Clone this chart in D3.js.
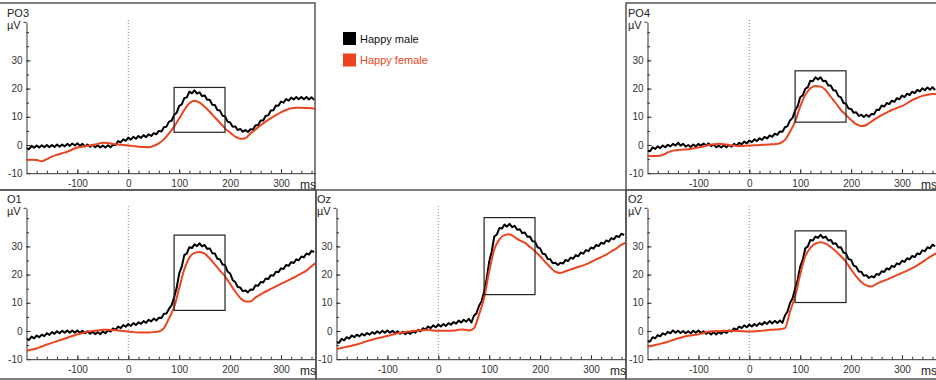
<!DOCTYPE html>
<html>
<head>
<meta charset="utf-8">
<script src="https://cdn.jsdelivr.net/npm/d3@7"></script>
<style>
  body { margin: 0; background: #fff; }
  svg { display: block; }
</style>
</head>
<body>
<svg width="936" height="380"></svg>
<script>
var channels = ["PO3", "PO4", "O1", "Oz", "O2"];
var seriesNames = ["Happy male", "Happy female"];
var xTicks = [-100, 0, 100, 200, 300];
var yTicks = [-10, 0, 10, 20, 30];
var boxTimes = [90, 190];
var boxLow = [4.5, 8.1, 7.3, 12.9, 10.1];
var boxHigh = [20.4, 26.3, 34.0, 40.2, 35.5];

// sample times (ms)
var maleTimes = d3.range(-200, 370, 5);
var femaleTimes = d3.range(-200, 371, 10);

// Happy male, 5 ms steps from -200
var malePO3 = [
  -1.1, -1.5, -0.3, -1.0, -0.2, -0.9, -0.1, -0.8, 0.0, -0.8,
  0.0, -0.7, 0.2, -0.6, 0.2, -0.5, 0.4, -0.3, 0.5, -0.2,
  0.6, -0.3, 0.4, -0.5, 0.2, -0.6, 0.1, -0.8, -0.1, -0.9,
  -0.2, -0.9, -0.1, -0.8, 0.1, 0.0, 1.4, 0.9, 2.0, 1.5,
  2.6, 1.9, 2.9, 2.2, 3.2, 2.5, 3.5, 2.8, 3.8, 3.2,
  4.2, 3.8, 5.0, 4.8, 6.3, 6.5, 8.3, 8.6, 10.6, 11.4,
  13.9, 14.4, 16.6, 16.9, 18.9, 18.3, 19.4, 18.2, 18.7, 17.3,
  17.6, 16.0, 16.0, 14.3, 14.2, 12.4, 12.2, 10.4, 10.2, 8.3,
  8.0, 6.5, 6.6, 5.3, 5.7, 4.7, 5.3, 4.6, 5.6, 5.5,
  7.0, 7.0, 8.7, 8.7, 10.4, 10.5, 12.2, 12.3, 14.0, 13.9,
  15.4, 15.0, 16.3, 15.7, 16.8, 16.1, 17.0, 16.2, 17.0, 16.2,
  17.0, 16.1, 16.9, 16.0
];
var malePO4 = [
  -2.0, -2.2, -0.8, -1.4, -0.5, -1.1, -0.2, -0.8, 0.1, -0.5,
  0.4, -0.2, 0.8, -0.2, 0.4, -0.6, 0.0, -0.7, 0.2, -0.5,
  0.4, -0.3, 0.5, -0.2, 0.6, -0.4, 0.2, -0.8, -0.2, -0.9,
  -0.1, -0.8, 0.0, -0.6, 0.4, -0.2, 0.8, 0.2, 1.2, 0.6,
  1.6, 1.0, 2.0, 1.4, 2.4, 1.8, 2.9, 2.3, 3.4, 2.9,
  4.0, 3.6, 4.8, 4.7, 6.3, 6.7, 8.7, 9.6, 12.2, 13.7,
  16.9, 17.6, 19.9, 20.5, 22.8, 22.6, 24.0, 23.2, 24.0, 22.6,
  22.8, 21.1, 21.1, 19.4, 19.3, 17.3, 16.9, 14.9, 14.6, 12.9,
  12.8, 11.4, 11.6, 10.3, 10.7, 9.9, 10.7, 10.0, 11.0, 10.9,
  12.5, 12.4, 14.0, 13.6, 14.9, 14.5, 15.7, 15.3, 16.6, 16.2,
  17.5, 17.0, 18.2, 17.7, 18.9, 18.4, 19.5, 19.0, 20.1, 19.4,
  20.4, 19.6, 20.5, 19.5
];
var maleO1 = [
  -2.8, -3.2, -2.0, -2.6, -1.6, -2.2, -1.3, -1.8, -0.8, -1.4,
  -0.4, -1.0, -0.1, -0.8, 0.1, -0.6, 0.2, -0.6, 0.2, -0.6,
  0.2, -0.6, 0.1, -0.8, -0.1, -1.0, -0.3, -1.1, -0.4, -1.1,
  -0.2, -0.8, 0.2, -0.2, 0.9, 0.4, 1.6, 1.0, 2.1, 1.5,
  2.5, 1.8, 2.8, 2.1, 3.1, 2.5, 3.5, 2.9, 4.0, 3.4,
  4.4, 3.7, 4.7, 4.6, 6.1, 6.2, 7.9, 9.1, 11.9, 15.3,
  20.4, 22.8, 26.9, 27.5, 29.7, 29.4, 30.7, 30.1, 31.1, 30.0,
  30.5, 29.1, 29.3, 27.6, 27.5, 25.6, 25.4, 23.6, 23.4, 21.1,
  20.4, 18.1, 17.4, 15.6, 15.4, 14.1, 14.4, 13.7, 14.7, 14.6,
  16.2, 16.0, 17.4, 17.2, 18.6, 18.4, 19.8, 19.6, 21.0, 20.8,
  22.2, 22.0, 23.4, 23.1, 24.4, 24.1, 25.4, 25.1, 26.4, 26.1,
  27.5, 27.1, 28.4, 28.0
];
var maleOz = [
  -4.0, -4.2, -2.8, -3.3, -2.2, -2.7, -1.6, -2.2, -1.3, -1.9,
  -1.0, -1.6, -0.7, -1.3, -0.4, -1.0, -0.1, -0.8, 0.1, -0.6,
  0.2, -0.6, 0.1, -0.8, -0.1, -1.0, -0.3, -1.1, -0.4, -1.0,
  -0.1, -0.6, 0.4, -0.1, 1.0, 0.5, 1.6, 1.0, 2.0, 1.3,
  2.3, 1.6, 2.5, 1.8, 2.8, 2.2, 3.2, 2.6, 3.7, 3.0,
  4.0, 3.3, 4.3, 3.0, 5.4, 6.3, 8.9, 10.6, 13.9, 18.4,
  24.6, 28.2, 33.5, 34.2, 36.5, 36.3, 37.7, 37.0, 38.0, 36.8,
  37.3, 35.9, 36.1, 34.7, 34.9, 33.4, 33.5, 31.8, 31.7, 29.7,
  29.3, 27.4, 27.2, 25.5, 25.4, 24.0, 24.2, 23.4, 24.2, 23.9,
  25.2, 24.8, 26.0, 25.6, 26.9, 26.5, 27.8, 27.4, 28.7, 28.3,
  29.6, 29.2, 30.5, 30.1, 31.3, 30.9, 32.1, 31.7, 32.9, 32.5,
  33.7, 33.3, 34.5, 34.0
];
var maleO2 = [
  -3.6, -3.7, -2.2, -2.6, -1.5, -1.9, -0.8, -1.3, -0.3, -0.8,
  0.2, -0.6, 0.1, -0.7, 0.0, -0.8, -0.1, -0.8, 0.1, -0.6,
  0.2, -0.7, -0.1, -1.0, -0.4, -1.2, -0.4, -1.2, -0.4, -1.0,
  -0.1, -0.7, 0.2, -0.2, 0.9, 0.4, 1.6, 1.0, 2.0, 1.3,
  2.3, 1.6, 2.5, 1.8, 2.8, 2.2, 3.2, 2.5, 3.5, 2.7,
  3.6, 2.8, 3.7, 2.9, 5.5, 6.9, 9.9, 11.6, 15.0, 18.1,
  22.8, 25.2, 29.3, 30.0, 32.3, 32.1, 33.5, 33.0, 34.1, 33.0,
  33.5, 32.1, 32.3, 30.9, 31.1, 29.6, 29.7, 27.8, 27.5, 25.5,
  25.2, 23.2, 22.8, 21.1, 21.0, 19.6, 19.8, 18.8, 19.4, 19.0,
  20.2, 19.9, 21.2, 20.9, 22.2, 21.8, 23.1, 22.7, 24.0, 23.6,
  24.9, 24.5, 25.8, 25.4, 26.6, 26.2, 27.5, 27.2, 28.6, 28.3,
  29.7, 29.3, 30.6, 30.0
];

// Happy female, 10 ms steps from -200
var femalePO3 = [
  -5.3, -5.2, -5.3, -5.8, -5.0, -4.1, -3.5, -2.9, -2.4, -1.6,
  -0.9, -0.6, -0.3, 0.0, 0.4, 0.8, 0.7, 0.4, 0.2, 0.0,
  -0.2, -0.4, -0.6, -0.7, -0.8, -0.3, 0.6, 2.0, 4.1, 6.5,
  9.4, 12.4, 14.8, 15.7, 15.0, 13.6, 11.8, 9.8, 7.9, 5.9,
  4.4, 3.0, 2.2, 2.4, 4.1, 5.5, 7.0, 8.3, 9.5, 10.6,
  11.6, 12.4, 13.0, 13.2, 13.2, 13.1, 13.0, 12.6
];
var femalePO4 = [
  -3.8, -3.9, -3.9, -3.5, -2.6, -2.0, -1.8, -1.6, -1.5, -1.2,
  -0.9, -0.5, 0.0, 0.2, 0.4, 0.3, 0.0, -0.2, -0.4, -0.3,
  -0.2, -0.1, 0.0, 0.1, 0.2, 0.3, 0.6, 1.8, 4.7, 8.3,
  13.6, 17.7, 20.1, 20.9, 20.7, 19.5, 17.1, 14.8, 12.4, 10.6,
  8.9, 7.4, 6.7, 7.1, 8.3, 9.5, 10.6, 11.5, 12.4, 13.1,
  13.8, 14.8, 15.9, 16.7, 17.4, 17.8, 18.1, 18.1
];
var femaleO1 = [
  -7.0, -6.6, -6.2, -5.5, -4.8, -4.2, -3.6, -3.0, -2.4, -1.8,
  -1.2, -0.7, -0.2, 0.0, 0.2, 0.4, 0.4, 0.3, 0.2, 0.0,
  -0.2, -0.4, -0.5, -0.5, -0.5, -0.4, -0.2, 1.0, 4.5, 8.5,
  15.2, 21.8, 26.0, 27.7, 28.0, 27.4, 25.7, 23.6, 21.4, 19.4,
  16.7, 14.0, 11.7, 10.5, 10.5, 11.9, 13.0, 14.0, 14.9, 15.8,
  16.7, 17.6, 18.5, 19.4, 20.4, 21.4, 23.0, 24.4
];
var femaleOz = [
  -6.4, -6.0, -5.6, -5.2, -4.8, -4.2, -3.6, -3.1, -2.6, -2.2,
  -1.8, -1.3, -0.8, -0.5, -0.2, 0.0, 0.2, 0.3, 0.4, 0.2,
  0.1, 0.1, 0.1, 0.2, 0.4, 0.5, 0.2, 1.0, 5.8, 11.7,
  21.2, 28.9, 32.5, 34.0, 34.3, 33.3, 32.1, 31.3, 29.8, 28.3,
  26.5, 24.5, 22.6, 21.0, 20.6, 21.2, 21.8, 22.4, 23.0, 23.6,
  24.5, 25.4, 26.2, 27.1, 28.2, 29.3, 30.6, 31.4
];
var femaleO2 = [
  -5.6, -5.2, -4.8, -4.3, -3.8, -3.2, -2.6, -2.1, -1.7, -1.4,
  -1.2, -0.7, -0.2, -0.1, 0.0, 0.1, 0.1, 0.0, 0.0, -0.1,
  -0.2, -0.1, 0.0, 0.2, 0.4, 0.5, 0.6, 1.0, 6.9, 12.3,
  20.0, 26.5, 29.5, 31.0, 31.5, 31.0, 29.8, 28.3, 26.5, 24.5,
  21.8, 19.4, 17.4, 16.2, 15.8, 16.7, 17.5, 18.2, 19.0, 19.8,
  20.6, 21.4, 22.3, 23.3, 24.4, 25.7, 26.8, 27.8
];

var maleData = [malePO3, malePO4, maleO1, maleOz, maleO2];
var femaleData = [femalePO3, femalePO4, femaleO1, femaleOz, femaleO2];

var colors = ["#000000", "#ea4520"];
var font = "Arial, 'Liberation Sans', sans-serif";

// panel origins and frame rects
var origins = [[0, 0], [621, 0], [0, 186], [310, 186], [621, 186]];
var frames = [[-2, 3, 317, 187], [626, 3, 314, 187], [-2, 190, 318, 189], [316, 190, 310, 189], [626, 190, 314, 189]];

var svg = d3.select("svg");

var x = d3.scaleLinear().domain([-200, 367]).range([26.5, 315.1]);
var y = d3.scaleLinear().domain([-10, 43.5]).range([173.2, 22.3]);

svg.append("defs").append("clipPath").attr("id", "plotclip")
  .append("rect")
  .attr("x", x(-200)).attr("y", 0)
  .attr("width", x(367) - x(-200)).attr("height", y(-10) + 2);

// frames
svg.selectAll("rect.frame")
  .data(frames)
  .enter().append("rect")
  .attr("class", "frame")
  .attr("x", function(d) { return d[0]; })
  .attr("y", function(d) { return d[1]; })
  .attr("width", function(d) { return d[2]; })
  .attr("height", function(d) { return d[3]; })
  .attr("fill", "none")
  .attr("stroke", "#555")
  .attr("stroke-width", 1.5);

var maleLine = d3.line()
  .x(function(d, i) { return x(maleTimes[i]); })
  .y(function(d) { return y(d); });

var femaleLine = d3.line()
  .x(function(d, i) { return x(femaleTimes[i]); })
  .y(function(d) { return y(d); })
  .curve(d3.curveMonotoneX);

channels.forEach(function(ch, k) {
  var g = svg.append("g")
    .attr("transform", "translate(" + origins[k][0] + "," + origins[k][1] + ")");

  // zero line
  g.append("line")
    .attr("x1", x(0)).attr("x2", x(0))
    .attr("y1", 20).attr("y2", y(-10))
    .attr("stroke", "#888")
    .attr("stroke-width", 1)
    .attr("stroke-dasharray", "1,2");

  // x axis
  var xMinor = g.append("g")
    .attr("transform", "translate(0," + y(-10) + ")")
    .call(d3.axisBottom(x).tickValues(d3.range(-180, 367, 20)).tickSize(-2.5).tickFormat(""));
  xMinor.select(".domain").remove();

  var xAxis = g.append("g")
    .attr("transform", "translate(0," + y(-10) + ")")
    .call(d3.axisBottom(x).tickValues(xTicks).tickSize(-4).tickSizeOuter(0)
      .tickPadding(7).tickFormat(function(d) { return String(d); }));

  // y axis
  var yMinor = g.append("g")
    .attr("transform", "translate(" + x(-200) + ",0)")
    .call(d3.axisLeft(y).tickValues(d3.range(-5, 43, 5)).tickSize(-2.5).tickFormat(""));
  yMinor.select(".domain").remove();

  var yAxis = g.append("g")
    .attr("transform", "translate(" + x(-200) + ",0)")
    .call(d3.axisLeft(y).tickValues(yTicks).tickSize(-4).tickSizeOuter(0)
      .tickPadding(4).tickFormat(function(d) { return String(d); }));

  g.append("line")
    .attr("x1", x(-200) - 3).attr("x2", x(-200))
    .attr("y1", y(43.5)).attr("y2", y(43.5))
    .attr("stroke", "#333");

  [xAxis, yAxis, xMinor, yMinor].forEach(function(a) {
    a.attr("font-family", font).attr("font-size", 10);
    a.selectAll("line").attr("stroke", "#333");
    a.selectAll("path").attr("stroke", "#333");
    a.selectAll("text").attr("fill", "#333");
  });

  // labels
  g.append("text").attr("x", 7).attr("y", 16.5)
    .attr("font-family", font).attr("font-size", 11).attr("fill", "#222")
    .text(ch);
  g.append("text").attr("x", 7).attr("y", 28.5)
    .attr("font-family", font).attr("font-size", 11).attr("fill", "#222")
    .text("µV");
  g.append("text").attr("x", 300).attr("y", 188.5)
    .attr("font-family", font).attr("font-size", 12).attr("fill", "#222")
    .text("ms");

  // curves
  var plot = g.append("g").attr("clip-path", "url(#plotclip)");
  plot.append("path")
    .datum(maleData[k])
    .attr("d", maleLine)
    .attr("fill", "none")
    .attr("stroke", colors[0])
    .attr("stroke-width", 2)
    .attr("stroke-linejoin", "round");
  plot.append("path")
    .datum(femaleData[k])
    .attr("d", femaleLine)
    .attr("fill", "none")
    .attr("stroke", colors[1])
    .attr("stroke-width", 2);

  // window box
  g.append("rect")
    .attr("x", x(boxTimes[0]))
    .attr("y", y(boxHigh[k]))
    .attr("width", x(boxTimes[1]) - x(boxTimes[0]))
    .attr("height", y(boxLow[k]) - y(boxHigh[k]))
    .attr("fill", "none")
    .attr("stroke", "#222")
    .attr("stroke-width", 1.2);
});

// legend
var legend = svg.append("g").attr("transform", "translate(343,32)");
seriesNames.forEach(function(name, i) {
  legend.append("rect")
    .attr("x", 0).attr("y", i * 21.5)
    .attr("width", 13).attr("height", 13)
    .attr("fill", colors[i]);
  legend.append("text")
    .attr("x", 17).attr("y", i * 21.5 + 10.5)
    .attr("font-family", font).attr("font-size", 11)
    .attr("fill", i === 0 ? "#111" : colors[1])
    .text(name);
});
</script>
</body>
</html>
